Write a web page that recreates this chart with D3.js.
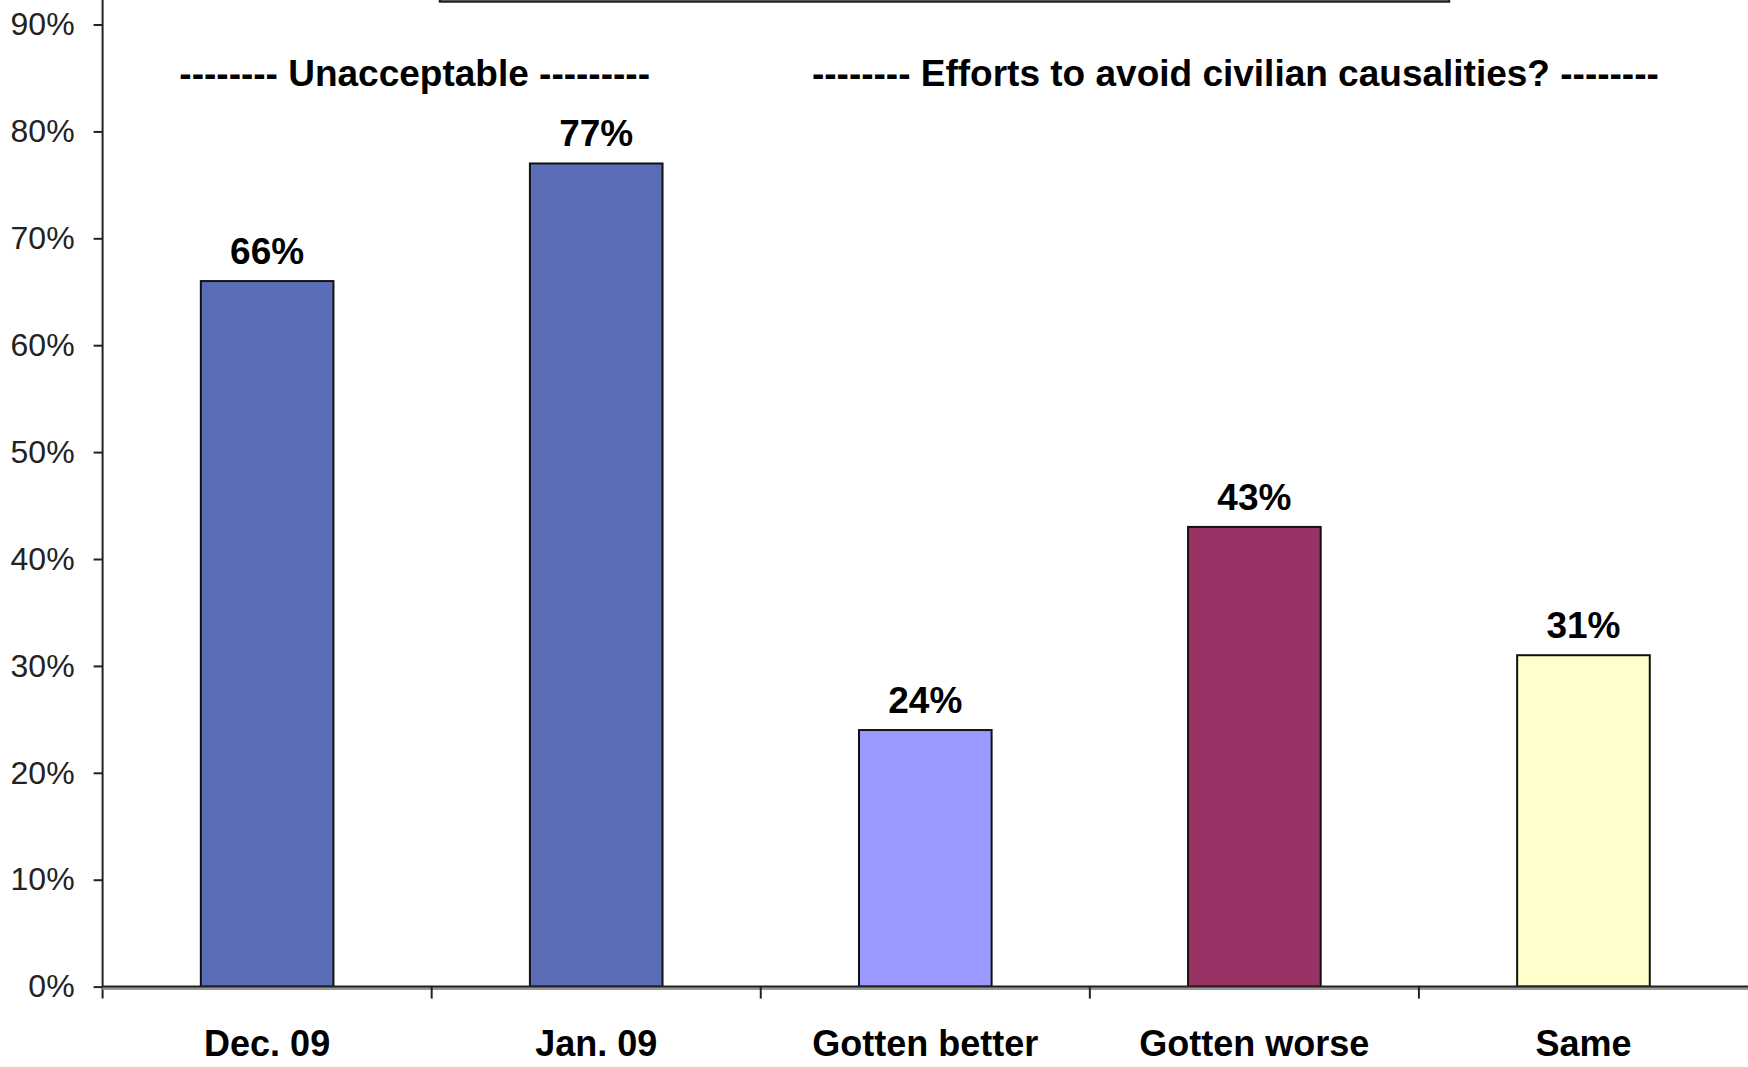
<!DOCTYPE html>
<html>
<head>
<meta charset="utf-8">
<script src="https://cdn.jsdelivr.net/npm/d3@7"></script>
<style>
  html, body { margin: 0; padding: 0; background: #ffffff; }
  svg { display: block; }
  text { font-family: "Liberation Sans", Arial, sans-serif; }
</style>
</head>
<body>
<svg id="chart" width="1748" height="1067"></svg>
<script>
// ---- data ----
const categories = ["Dec. 09", "Jan. 09", "Gotten better", "Gotten worse", "Same"];
const values = [66, 77, 24, 43, 31];
const barColors = ["#5b6db6", "#5b6db6", "#9999ff", "#993366", "#ffffcc"];
const yTicks = [0, 10, 20, 30, 40, 50, 60, 70, 80, 90];
const groupHeaders = [
  { text: "-------- Unacceptable ---------", from: 0, to: 1 },
  { text: "-------- Efforts to avoid civilian causalities? --------", from: 2, to: 4 }
];

// ---- layout ----
const W = 1748, H = 1067;
const x0 = 102.6, x1 = 1748, y0 = 986.6, per10 = 106.9;
const svg = d3.select("#chart");

const x = d3.scaleBand().domain(categories).range([x0, x1])
  .paddingInner(0.597).paddingOuter(0.2985);
const y = d3.scaleLinear().domain([0, 100]).range([y0, y0 - per10 * 10]);

// top box (cropped)
svg.append("rect")
  .attr("x", 440).attr("y", -60).attr("width", 1009).attr("height", 61.5)
  .attr("fill", "#fff").attr("stroke", "#222").attr("stroke-width", 2.5);

// bars
svg.selectAll("rect.bar").data(values).enter().append("rect")
  .attr("class", "bar")
  .attr("x", (d, i) => x(categories[i]))
  .attr("y", d => y(d))
  .attr("width", x.bandwidth())
  .attr("height", d => y0 - y(d))
  .attr("fill", (d, i) => barColors[i])
  .attr("stroke", "#111").attr("stroke-width", 2);

// value labels
svg.selectAll("text.val").data(values).enter().append("text")
  .attr("class", "val")
  .attr("x", (d, i) => x(categories[i]) + x.bandwidth() / 2)
  .attr("y", d => y(d) - 17)
  .attr("text-anchor", "middle")
  .attr("font-size", 37).attr("font-weight", "bold").attr("fill", "#000")
  .text(d => d + "%");

// y axis
const yAxis = d3.axisLeft(y).tickValues(yTicks).tickSize(9).tickPadding(19)
  .tickFormat(d => d + "%");
const gy = svg.append("g").attr("transform", `translate(${x0},0)`).call(yAxis);
gy.select(".domain").remove();
gy.selectAll(".tick line").attr("stroke", "#222").attr("stroke-width", 2);
gy.selectAll(".tick text").attr("font-size", 32).attr("fill", "#222")
  .attr("font-family", "'Liberation Sans', Arial, sans-serif");
svg.append("line").attr("x1", x0).attr("x2", x0).attr("y1", 0).attr("y2", y0 + 12)
  .attr("stroke", "#222").attr("stroke-width", 2);

// x axis
const step = x.step();
const gap = step - x.bandwidth();
const boundaries = categories.map(c => x(c) - gap / 2).concat([x1]);
svg.append("line").attr("x1", x0).attr("x2", x1).attr("y1", y0 + 2).attr("y2", y0 + 2)
  .attr("stroke", "#999").attr("stroke-width", 3);
svg.append("line").attr("x1", x0).attr("x2", x1).attr("y1", y0).attr("y2", y0)
  .attr("stroke", "#222").attr("stroke-width", 2);
svg.selectAll("line.xt").data(boundaries.slice(1, -1)).enter().append("line")
  .attr("class", "xt")
  .attr("x1", d => d).attr("x2", d => d)
  .attr("y1", y0).attr("y2", y0 + 12)
  .attr("stroke", "#222").attr("stroke-width", 2);

svg.selectAll("text.cat").data(categories).enter().append("text")
  .attr("class", "cat")
  .attr("x", d => x(d) + x.bandwidth() / 2)
  .attr("y", 1056)
  .attr("text-anchor", "middle")
  .attr("font-size", 36).attr("font-weight", "bold").attr("fill", "#000")
  .text(d => d);

// group headers
svg.selectAll("text.hdr").data(groupHeaders).enter().append("text")
  .attr("class", "hdr")
  .attr("x", d => (x(categories[d.from]) + x(categories[d.to]) + x.bandwidth()) / 2 + (d.from === 0 ? -17 : -19))
  .attr("y", 86)
  .attr("text-anchor", "middle")
  .attr("font-size", 37).attr("font-weight", "bold").attr("fill", "#000")
  .text(d => d.text);
</script>
</body>
</html>
